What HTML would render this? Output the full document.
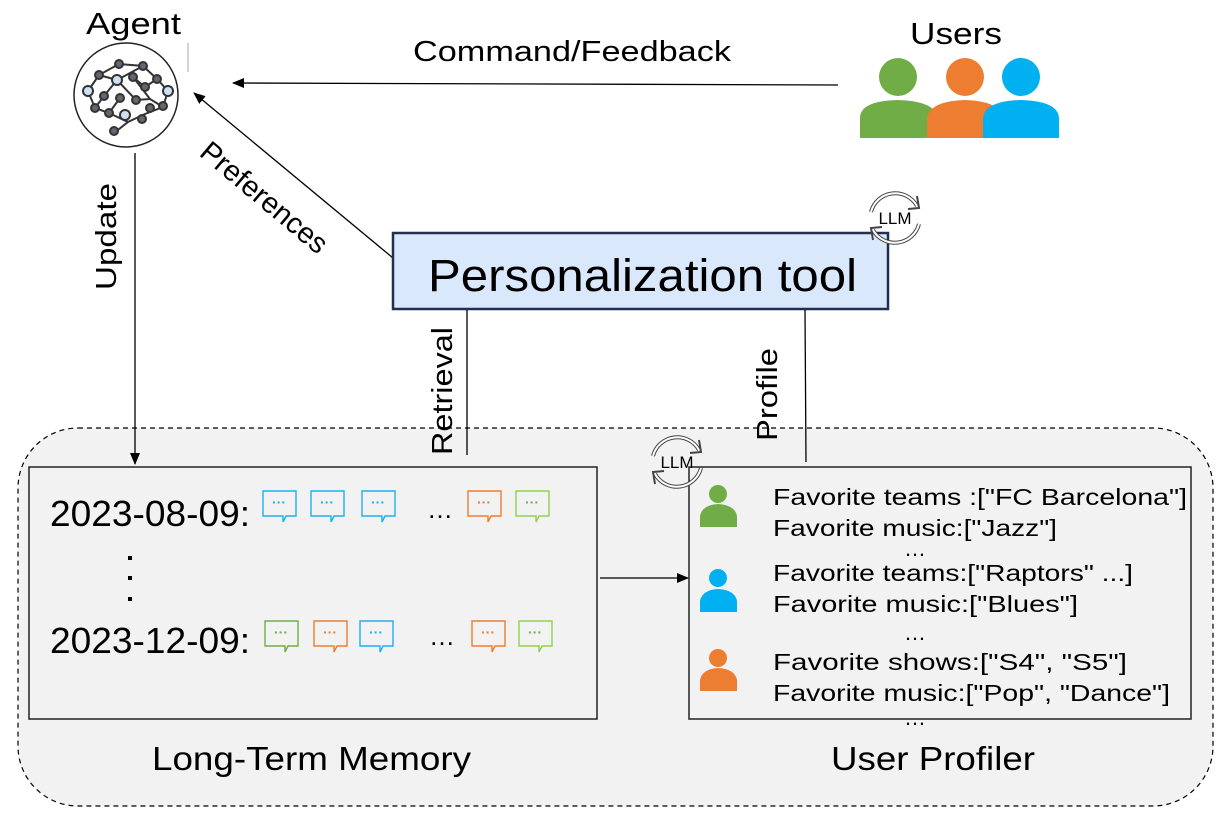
<!DOCTYPE html>
<html><head><meta charset="utf-8"><style>
html,body{margin:0;padding:0;background:#fff;}
svg{display:block;font-family:"Liberation Sans",sans-serif;}
</style></head><body>
<svg width="1217" height="816" viewBox="0 0 1217 816" xmlns="http://www.w3.org/2000/svg">
<defs>
<marker id="ah" markerWidth="12" markerHeight="10" refX="11" refY="5" orient="auto" markerUnits="userSpaceOnUse"><path d="M0,0 L12,5 L0,10 z" fill="#000"/></marker>
<g id="llm">
  <path d="M-24,-6 A25,25 0 0 1 22,-12" fill="none" stroke="#444" stroke-width="4"/>
  <path d="M-24,-6 A25,25 0 0 1 22,-12" fill="none" stroke="#fff" stroke-width="2"/>
  <path d="M24,6 A25,25 0 0 1 -22,12" fill="none" stroke="#444" stroke-width="4"/>
  <path d="M24,6 A25,25 0 0 1 -22,12" fill="none" stroke="#fff" stroke-width="2"/>
  <path d="M22,-22 L24,-10 L13,-9" fill="none" stroke="#444" stroke-width="2"/>
  <path d="M-22,22 L-24,10 L-13,9" fill="none" stroke="#444" stroke-width="2"/>
  <text x="0" y="6" font-size="17" text-anchor="middle" fill="#000">LLM</text>
</g>
<g id="bub"><path d="M0,0 h33 v25 h-10 l-3,6 v-6 h-20 z" fill="none" stroke-width="1.4"/></g>
</defs>

<rect x="18" y="428" width="1195" height="378" rx="60" fill="#f2f2f2" stroke="#000" stroke-width="1.2" stroke-dasharray="5,4"/>

<text x="86" y="34" font-size="31" textLength="95" lengthAdjust="spacingAndGlyphs">Agent</text>
<line x1="188" y1="43" x2="188" y2="72" stroke="#aaa" stroke-width="1"/>
<circle cx="126" cy="95" r="52" fill="#fff" stroke="#222" stroke-width="1.5"/>
<g stroke="#333" stroke-width="2" fill="#6a6370">
<path d="M99,75 L119,64 L143,66 L157,79 L168,91 L163,107 L145,114 L128,122 L114,133 M99,75 L88,91 L95,108 L109,113 L128,122 M117,80 L99,75 M117,80 L143,66 M117,80 L136,100 L150,99 M117,80 L104,96 L95,108 M120,98 L109,113 M133,77 L150,99 L163,107 M145,87 L157,79 M145,87 L133,77" fill="none"/>
<circle cx="119" cy="64" r="4"/><circle cx="143" cy="66" r="4"/><circle cx="99" cy="75" r="4"/><circle cx="133" cy="77" r="4"/><circle cx="157" cy="79" r="4"/><circle cx="145" cy="87" r="4"/><circle cx="104" cy="96" r="4"/><circle cx="120" cy="98" r="4"/><circle cx="136" cy="100" r="4"/><circle cx="95" cy="108" r="4"/><circle cx="109" cy="113" r="4"/><circle cx="150" cy="108" r="4"/><circle cx="163" cy="106" r="4"/><circle cx="142" cy="119" r="4"/><circle cx="114" cy="131" r="4"/>
<circle cx="117" cy="80" r="5" fill="#cfe0f3"/><circle cx="88" cy="91" r="5" fill="#cfe0f3"/><circle cx="168" cy="91" r="5" fill="#cfe0f3"/><circle cx="125" cy="115" r="5" fill="#cfe0f3"/>
</g>

<text x="413" y="61" font-size="29" textLength="318" lengthAdjust="spacingAndGlyphs">Command/Feedback</text>
<line x1="838" y1="85" x2="233" y2="83" stroke="#000" stroke-width="1.3" marker-end="url(#ah)"/>

<text x="910" y="44" font-size="31" textLength="92" lengthAdjust="spacingAndGlyphs">Users</text>
<circle cx="898" cy="77" r="19" fill="#70ad47"/>
<path d="M860,138 V118 Q860,101 898,100 Q935,101 938,118 V138 z" fill="#70ad47"/>
<circle cx="965" cy="77" r="19" fill="#ed7d31"/>
<path d="M927,138 V118 Q930,101 965,100 Q1000,101 1003,118 V138 z" fill="#ed7d31"/>
<circle cx="1021" cy="77" r="19" fill="#00b0f0"/>
<path d="M983,138 V118 Q985,101 1021,100 Q1058,101 1059,118 V138 z" fill="#00b0f0"/>

<line x1="393" y1="258" x2="194" y2="93" stroke="#000" stroke-width="1.3" marker-end="url(#ah)"/>
<text transform="translate(258,205) rotate(40)" font-size="29" text-anchor="middle">Preferences</text>

<line x1="135" y1="153" x2="135" y2="464" stroke="#000" stroke-width="1.3" marker-end="url(#ah)"/>
<text transform="translate(116,290) rotate(-90)" font-size="29" textLength="107" lengthAdjust="spacingAndGlyphs">Update</text>

<rect x="393" y="233" width="495" height="76" fill="#dae8fc" stroke="#1f3052" stroke-width="2.5"/>
<text x="428" y="291" font-size="45" textLength="429" lengthAdjust="spacingAndGlyphs">Personalization tool</text>
<use href="#llm" x="895" y="218"/>

<line x1="467" y1="310" x2="467" y2="455" stroke="#000" stroke-width="1.3"/>
<text transform="translate(452,455) rotate(-90)" font-size="29" textLength="128" lengthAdjust="spacingAndGlyphs">Retrieval</text>
<line x1="805" y1="310" x2="806" y2="462" stroke="#000" stroke-width="1.3"/>
<text transform="translate(777,441) rotate(-90)" font-size="29" textLength="93" lengthAdjust="spacingAndGlyphs">Profile</text>

<rect x="29" y="467" width="568" height="252" fill="#f2f2f2" stroke="#222" stroke-width="1.5"/>
<text x="50" y="526" font-size="36" textLength="200" lengthAdjust="spacingAndGlyphs">2023-08-09:</text>
<text x="50" y="653" font-size="36" textLength="200" lengthAdjust="spacingAndGlyphs">2023-12-09:</text>
<g fill="#000"><rect x="128" y="556" width="4" height="4"/><rect x="128" y="576" width="4" height="4"/><rect x="128" y="597" width="4" height="4"/></g>
<text x="440" y="518" font-size="26" text-anchor="middle">…</text>
<text x="442" y="645" font-size="26" text-anchor="middle">…</text>
<g>
<use href="#bub" x="263" y="491" stroke="#1eb0f0"/><use href="#bub" x="311" y="491" stroke="#1eb0f0"/><use href="#bub" x="362" y="491" stroke="#1eb0f0"/><use href="#bub" x="468" y="491" stroke="#ed7d31"/><use href="#bub" x="516" y="491" stroke="#8fd14f"/>
<use href="#bub" x="265" y="621" stroke="#70ad47"/><use href="#bub" x="314" y="621" stroke="#ed7d31"/><use href="#bub" x="360" y="621" stroke="#1eb0f0"/><use href="#bub" x="472" y="621" stroke="#ed7d31"/><use href="#bub" x="519" y="621" stroke="#8fd14f"/>
</g>
<g font-size="14" font-weight="bold" text-anchor="middle">
<text x="279" y="507" fill="#1eb0f0">···</text><text x="327" y="507" fill="#1eb0f0">···</text><text x="378" y="507" fill="#1eb0f0">···</text><text x="484" y="507" fill="#ed7d31">···</text><text x="532" y="507" fill="#70ad47">···</text>
<text x="281" y="637" fill="#70ad47">···</text><text x="330" y="637" fill="#ed7d31">···</text><text x="376" y="637" fill="#1eb0f0">···</text><text x="488" y="637" fill="#ed7d31">···</text><text x="535" y="637" fill="#70ad47">···</text>
</g>

<line x1="600" y1="578" x2="688" y2="578" stroke="#000" stroke-width="1.3" marker-end="url(#ah)"/>

<rect x="689" y="467" width="502" height="252" fill="#f2f2f2" stroke="#222" stroke-width="1.5"/>
<use href="#llm" x="677" y="462"/>
<circle cx="718" cy="494" r="9" fill="#70ad47"/><path d="M700,527 V516 Q702,505 718,504 Q735,505 737,516 V527 z" fill="#70ad47"/>
<circle cx="718" cy="578" r="9" fill="#00b0f0"/><path d="M700,612 V601 Q702,590 718,589 Q735,590 737,601 V612 z" fill="#00b0f0"/>
<circle cx="718" cy="658" r="9" fill="#ed7d31"/><path d="M700,691 V680 Q702,669 718,668 Q735,669 737,680 V691 z" fill="#ed7d31"/>
<g font-size="23" lengthAdjust="spacingAndGlyphs">
<text x="773" y="505" textLength="414" lengthAdjust="spacingAndGlyphs">Favorite teams :["FC Barcelona"]</text>
<text x="773" y="536" textLength="284" lengthAdjust="spacingAndGlyphs">Favorite music:["Jazz"]</text>
<text x="773" y="581" textLength="360" lengthAdjust="spacingAndGlyphs">Favorite teams:["Raptors" ...]</text>
<text x="773" y="612" textLength="305" lengthAdjust="spacingAndGlyphs">Favorite music:["Blues"]</text>
<text x="773" y="670" textLength="354" lengthAdjust="spacingAndGlyphs">Favorite shows:["S4", "S5"]</text>
<text x="773" y="701" textLength="397" lengthAdjust="spacingAndGlyphs">Favorite music:["Pop", "Dance"]</text>
</g>
<g font-size="22" text-anchor="middle"><text x="915" y="556">…</text><text x="915" y="640">…</text><text x="915" y="725">…</text></g>

<text x="152" y="770" font-size="33" textLength="319" lengthAdjust="spacingAndGlyphs">Long-Term Memory</text>
<text x="831" y="770" font-size="33" textLength="204" lengthAdjust="spacingAndGlyphs">User Profiler</text>
</svg>
</body></html>
